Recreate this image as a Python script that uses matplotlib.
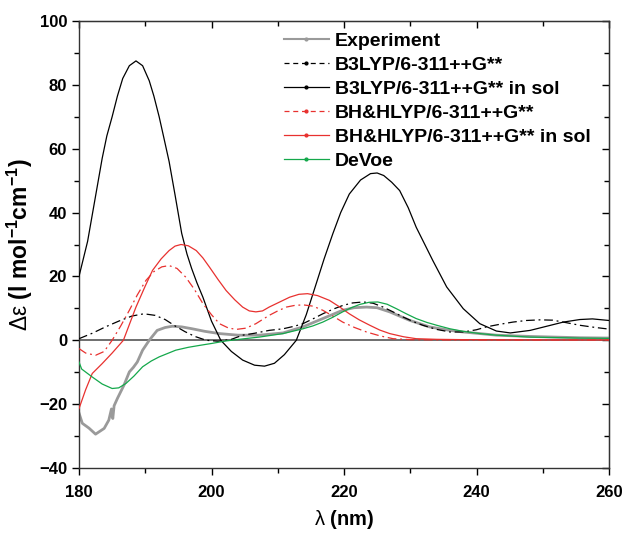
# CD spectra: experiment vs. computed (B3LYP, BH&HLYP, DeVoe)
import matplotlib
matplotlib.use("Agg")
import matplotlib.pyplot as plt
from matplotlib.lines import Line2D
from matplotlib.ticker import MultipleLocator

plt.rcParams["font.family"] = ["Liberation Sans", "DejaVu Sans"]
plt.rcParams["mathtext.fontset"] = "custom"
plt.rcParams["mathtext.rm"] = "Liberation Sans:bold"
plt.rcParams["mathtext.sf"] = "Liberation Sans"
plt.rcParams["mathtext.it"] = "Liberation Sans:italic"

# --- data (wavelength nm, delta eps) ---
exp_x = [180, 180.5, 181.5, 182.5, 183.8, 184.5, 184.9, 185.1, 185.3, 185.8, 186.8,
         187.6, 188.2, 188.8, 189.6, 190.6, 191.8, 193, 194.1, 195.5, 197.1, 199,
         201.2, 204, 207.2, 210.8, 213.8, 216.8, 219.8, 221.5, 223.4, 225, 226.9,
         229.9, 232.9, 236, 238, 243, 248.1, 255.6, 260]
exp_y = [-22.8, -26, -27.5, -29.4, -27.6, -25, -21.5, -24.5, -20.5, -18.2, -14,
         -9.9, -8.5, -6.8, -3.1, 0, 3.1, 4.0, 4.4, 4.2, 3.6, 2.8,
         2.1, 1.6, 1.6, 2.3, 4.2, 6.8, 9.4, 10.2, 10.4, 10.2, 8.9,
         6.25, 4.2, 3.1, 2.6, 1.6, 1.2, 0.8, 0.7]

b3_gas_x = [180, 182, 184, 186, 188, 189.8, 191.5, 193, 194.5, 196, 197.5, 199.2,
            201, 203, 204.7, 206.5, 208.7, 210.8, 212.5, 213.8, 215.3, 216.8, 218.3,
            219.8, 221.3, 222.9, 224.4, 225.9, 227.4, 228.9, 230.4, 231.9, 234, 236,
            238, 240, 241.5, 243.5, 245.5, 247.5, 249.6, 251.5, 253.1, 255.6, 258, 260]
b3_gas_y = [0.5, 2.2, 4.2, 6.0, 7.6, 8.3, 7.8, 6.5, 4.5, 2.7, 1.2, 0,
            -0.3, 0.3, 1.6, 2.2, 3.1, 3.6, 4.4, 5.2, 6.7, 8.3, 9.7,
            10.9, 11.7, 12.0, 11.6, 10.4, 8.9, 7.3, 5.9, 4.7, 3.4, 2.6,
            2.6, 3.3, 4.2, 5.0, 5.7, 6.2, 6.4, 6.3, 5.7, 4.7, 4.0, 3.5]

b3_sol_x = [180, 181.3, 182.4, 183.5, 184.2, 185.0, 185.8, 186.6, 187.6, 188.6, 189.6,
            190.6, 191.3, 192.1, 192.8, 193.6, 194.5, 195.5, 196.3, 197, 197.8, 198.7,
            200, 201.4, 203, 204.7, 206.5, 208, 209.5, 211, 212.8, 214.3, 215.8, 217,
            218.3, 219.5, 220.8, 222.5, 224, 225, 226, 227.2, 228.4, 229.7, 230.9, 232.2,
            233.4, 235.5, 238, 240.5, 243, 245.1, 248.1, 250.6, 253.1, 255.6, 257.5, 260]
b3_sol_y = [20, 31, 44, 57, 64, 70, 76.5, 82, 86, 87.5, 86,
            81.3, 76.5, 70, 63.5, 56, 45.5, 33.5, 27, 22.5, 18, 13.5,
            6, 0, -3.5, -6.2, -7.8, -8.1, -7.2, -4.5, 0, 8, 17.7, 25.5,
            33.3, 40, 45.8, 50.2, 52.2, 52.4, 51.6, 49.5, 46.9, 41.5, 35.4, 30,
            25, 16.7, 9.9, 5.2, 2.9, 2.3, 3.1, 4.4, 5.7, 6.5, 6.7, 6.2]

bh_gas_x = [180, 181, 182.5, 183.8, 185, 186.3, 187.6, 188.8, 190.1, 191.3, 192.5,
            193.6, 194.8, 196.1, 197.4, 198.7, 200, 201.2, 202.5, 203.7, 205.2, 206.7,
            208.7, 210, 211.3, 212.5, 213.8, 215.3, 216.8, 218.3, 219.8, 221.6, 223.4,
            225.4, 227.4, 230, 235, 245, 260]
bh_gas_y = [-2.6, -4.0, -4.7, -3.5, 0, 4.5, 9.4, 14.2, 18.75, 21.5, 23,
            23.4, 22.5, 19.8, 16, 11.5, 8, 5.2, 3.9, 3.4, 3.8, 5.2,
            7.8, 9.2, 10.4, 10.9, 11.1, 10.7, 9.4, 7.6, 5.7, 4.0, 2.6,
            1.4, 0.5, 0.2, 0.1, 0.1, 0.1]

bh_sol_x = [180, 181, 182, 183.5, 185, 186.7, 188.6, 190, 191.1, 192.4, 193.6, 194.5,
            195.4, 196.5, 197.7, 198.7, 199.7, 201, 202.2, 203.5, 204.7, 205.7, 206.7,
            207.7, 208.7, 210.3, 211.8, 213.2, 214.5, 216, 217.8, 219.3, 220.8, 222.3,
            223.9, 225.4, 226.9, 229, 230.9, 234, 238, 245, 260]
bh_sol_y = [-21.4, -15.5, -10.4, -7.3, -4, 0, 10.4, 17, 21.9, 25.5, 28.1, 29.5,
            30, 29.6, 28.1, 25.8, 22.9, 19, 15.6, 12.7, 10.4, 9.2, 8.9,
            9.2, 10.4, 12, 13.5, 14.4, 14.6, 14.0, 12.5, 10.5, 8.3, 6.4,
            4.7, 3.2, 2.1, 1.1, 0.5, 0.3, 0.2, 0.1, 0.1]

devoe_x = [180, 180.4, 182, 183.5, 185, 186, 187.1, 188.3, 189.6, 190.9, 192.1,
           194.6, 196.5, 198.2, 200, 202.2, 205, 207.2, 210.8, 213.8, 215.3, 216.8,
           218.3, 219.8, 221.1, 222.4, 223.8, 225.1, 226.5, 227.9, 229.4, 230.9,
           232.5, 234, 236, 238, 240.5, 243, 248, 255.6, 260]
devoe_y = [-6.8, -9.0, -11.5, -13.7, -15.1, -14.9, -13.5, -11.2, -8.3, -6.5, -5.2,
           -3.1, -2.2, -1.6, -1.0, -0.2, 0.5, 1.0, 2.1, 3.6, 4.5, 5.7,
           7.2, 8.9, 10.2, 11.25, 11.9, 12.0, 11.3, 9.9, 8.3, 6.8,
           5.6, 4.7, 3.6, 2.8, 2.1, 1.6, 1.0, 0.7, 0.6]

labels = ["Experiment", "B3LYP/6-311++G**", "B3LYP/6-311++G** in sol",
          "BH&HLYP/6-311++G**", "BH&HLYP/6-311++G** in sol", "DeVoe"]

GRAY = "#9a9a9a"
RED = "#e8312f"
GREEN = "#14a84b"
DASHDOT = (7, 3, 1.5, 3)

fig = plt.figure(figsize=(6.24, 5.33), dpi=100)
ax = fig.add_axes([79 / 624, 1 - 468 / 533, 530 / 624, 447 / 533])

ax.axhline(0, color="#555555", lw=1.2, zorder=1)

ax.plot(exp_x, exp_y, color=GRAY, lw=2.0, zorder=2)
ax.plot(b3_gas_x, b3_gas_y, color="black", lw=0.9, dashes=DASHDOT, zorder=3)
ax.plot(b3_sol_x, b3_sol_y, color="black", lw=0.9, zorder=3)
ax.plot(bh_gas_x, bh_gas_y, color=RED, lw=0.9, dashes=DASHDOT, zorder=3)
ax.plot(bh_sol_x, bh_sol_y, color=RED, lw=0.9, zorder=3)
ax.plot(devoe_x, devoe_y, color=GREEN, lw=0.9, zorder=3)

ax.set_xlim(180, 260)
ax.set_ylim(-40, 100)
ax.xaxis.set_major_locator(MultipleLocator(20))
ax.xaxis.set_minor_locator(MultipleLocator(10))
ax.yaxis.set_major_locator(MultipleLocator(20))
ax.yaxis.set_minor_locator(MultipleLocator(10))
ax.tick_params(which="major", direction="out", length=5, width=1, labelsize=12)
ax.tick_params(which="minor", direction="out", length=3.5, width=1)
for lab in ax.get_xticklabels() + ax.get_yticklabels():
    lab.set_fontweight("bold")
ax.tick_params(axis="x", pad=7)

# mirrored ticks pointing inwards on top / right
top = ax.secondary_xaxis("top")
top.xaxis.set_major_locator(MultipleLocator(20))
top.xaxis.set_minor_locator(MultipleLocator(10))
top.tick_params(which="major", direction="in", length=5, width=1, labeltop=False)
top.tick_params(which="minor", direction="in", length=3.5, width=1)
right = ax.secondary_yaxis("right")
right.yaxis.set_major_locator(MultipleLocator(20))
right.yaxis.set_minor_locator(MultipleLocator(10))
right.tick_params(which="major", direction="in", length=5, width=1, labelright=False)
right.tick_params(which="minor", direction="in", length=3.5, width=1)

for sp in ax.spines.values():
    sp.set_linewidth(1.0)
    sp.set_color("#333333")

ax.set_xlabel(r"$\mathsf{λ}$ (nm)", fontsize=14.5, fontweight="bold", labelpad=6)
ax.set_ylabel(r"$\mathsf{Δε}$ (l mol$^{-1}$cm$^{-1}$)", fontsize=16.5,
              fontweight="bold", labelpad=3)

handles = [
    Line2D([], [], color=GRAY, lw=1.5, marker="o", markersize=2),
    Line2D([], [], color="black", lw=0.9, dashes=(4, 3), marker="o", markersize=2),
    Line2D([], [], color="black", lw=0.9, marker="o", markersize=2),
    Line2D([], [], color=RED, lw=0.9, dashes=(4, 3), marker="o", markersize=2),
    Line2D([], [], color=RED, lw=0.9, marker="o", markersize=2),
    Line2D([], [], color=GREEN, lw=0.9, marker="o", markersize=2),
]
ax.legend(handles, labels, loc="upper left", bbox_to_anchor=(0.387, 0.975),
          frameon=False, borderpad=0, borderaxespad=0, handlelength=2.3,
          handletextpad=0.3, labelspacing=0.33,
          prop={"weight": "bold", "size": 14})

fig.savefig("out.png", dpi=100)
